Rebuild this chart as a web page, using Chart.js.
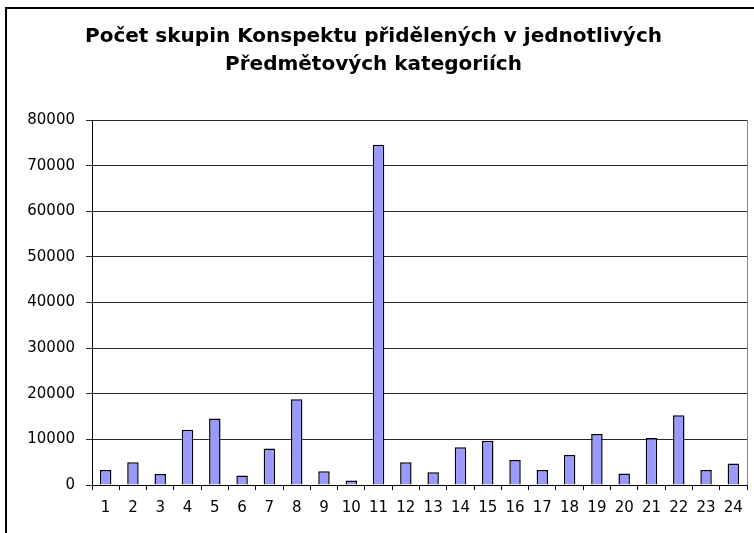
<!DOCTYPE html>
<html>
<head>
<meta charset="utf-8">
<script src="https://cdn.jsdelivr.net/npm/chart.js@4"></script>
<style>
  html, body { margin: 0; padding: 0; background: #fff; }
  #wrap { position: relative; width: 754px; height: 533px; }
  #frame {
    position: absolute; left: 5px; top: 7px; width: 800px; height: 600px;
    border-left: 2px solid #000; border-top: 2px solid #000; pointer-events: none;
  }
</style>
</head>
<body>
<div id="wrap">
  <canvas id="barChart" width="754" height="533"></canvas>
  <div id="frame"></div>
</div>
<script>
var categories = ["1", "2", "3", "4", "5", "6", "7", "8", "9", "10", "11", "12",
  "13", "14", "15", "16", "17", "18", "19", "20", "21", "22", "23", "24"];
var counts = [3300, 5000, 2400, 12100, 14600, 2100, 8000, 18800, 3000, 1000, 74600, 5000,
  2800, 8300, 9700, 5500, 3300, 6600, 11200, 2500, 10300, 15300, 3300, 4700];
var titleLines = ["Počet skupin Konspektu přidělených v jednotlivých", "Předmětových kategoriích"];

// right edge of the plot area (thin grey line like the original)
var plotBorder = {
  id: "plotBorder",
  afterDraw: function (chart) {
    var ctx = chart.ctx;
    var a = chart.chartArea;
    ctx.save();
    ctx.strokeStyle = "#888";
    ctx.lineWidth = 1;
    ctx.beginPath();
    ctx.moveTo(Math.round(a.right) + 0.5, a.top);
    ctx.lineTo(Math.round(a.right) + 0.5, a.bottom);
    ctx.stroke();
    ctx.restore();
  }
};

var ctx = document.getElementById("barChart").getContext("2d");
var myChart = new Chart(ctx, {
  type: "bar",
  data: {
    labels: categories,
    datasets: [
      {
        label: "Počet skupin",
        data: counts,
        backgroundColor: "#9999FF",
        borderColor: "#000",
        borderWidth: 1.5,
        categoryPercentage: 1.0,
        barPercentage: 0.42,
      },
    ],
  },
  options: {
    responsive: false,
    animation: false,
    layout: { padding: { left: 0, right: 7, top: 0, bottom: 0 } },
    plugins: {
      legend: { display: false },
      tooltip: { enabled: false },
      title: {
        display: true,
        text: titleLines,
        color: "#000",
        font: { family: "'DejaVu Sans'", size: 20, weight: "bold", lineHeight: 28 / 20 },
        padding: { top: 23, bottom: 41 },
      },
    },
    scales: {
      x: {
        grid: { display: true, drawOnChartArea: false, offset: true, tickLength: 5, color: "#000" },
        border: { color: "#000", width: 1 },
        ticks: {
          color: "#000",
          font: { family: "'DejaVu Sans'", size: 15 },
          padding: 9,
          maxRotation: 0,
          autoSkip: false,
        },
        afterFit: function (scale) { scale.height = 48; },
      },
      y: {
        min: 0,
        max: 80000,
        grid: { color: "#2a2a2a", tickLength: 6 },
        border: { color: "#000", width: 1 },
        ticks: {
          stepSize: 10000,
          color: "#000",
          padding: 11,
          font: { family: "'DejaVu Sans'", size: 15 },
          callback: function (value) { return String(value); },
        },
        afterFit: function (scale) { scale.width = 92; },
      },
    },
  },
  plugins: [plotBorder],
});
</script>
</body>
</html>
